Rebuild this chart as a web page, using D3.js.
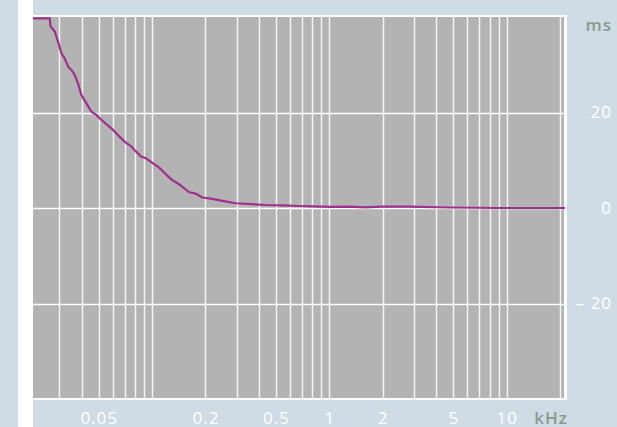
<!DOCTYPE html>
<html>
<head>
<meta charset="utf-8">
<script src="https://cdn.jsdelivr.net/npm/d3@7"></script>
<style>
  body { margin: 0; background: #cfdce5; }
  svg { display: block; }
</style>
</head>
<body>
<svg id="chart" width="617" height="427"></svg>
<script>
// frequency (kHz) and group delay (ms)
var freqs = [0.0213, 0.0265, 0.0267, 0.0283, 0.0295, 0.0308, 0.0322, 0.0336, 0.0351, 0.0366,
  0.0382, 0.0399, 0.0426, 0.0454, 0.0485, 0.0506, 0.0551, 0.0601, 0.0641, 0.0699,
  0.0762, 0.0813, 0.0867, 0.0925, 0.1008, 0.110, 0.120, 0.1305, 0.1455, 0.162,
  0.1767, 0.1924, 0.219, 0.249, 0.296, 0.352, 0.437, 0.542, 0.672, 0.798,
  1.034, 1.28, 1.59, 1.975, 2.79, 4.68, 8.94, 21.3];
var delays = [39.7, 39.7, 38.1, 36.9, 34.8, 32.4, 31.3, 29.6, 28.9, 27.9,
  26.1, 23.7, 21.9, 20.2, 19.5, 18.8, 17.6, 16.4, 15.3, 13.9,
  12.9, 11.8, 10.8, 10.4, 9.4, 8.4, 7.0, 5.8, 4.7, 3.3,
  3.0, 2.2, 1.9, 1.5, 1.0, 0.84, 0.63, 0.54, 0.42, 0.33,
  0.25, 0.27, 0.13, 0.27, 0.27, 0.1, 0, 0];

var gridFreqs = [0.03, 0.04, 0.05, 0.06, 0.07, 0.08, 0.09, 0.1, 0.2, 0.3, 0.4, 0.5, 0.6, 0.7, 0.8, 0.9,
  1, 2, 3, 4, 5, 6, 7, 8, 9, 10, 20];
var xTickValues = [0.05, 0.2, 0.5, 1, 2, 5, 10];
var xTickLabels = ["0.05", "0.2", "0.5", "1", "2", "5", "10"];
var yTickValues = [20, 0, -20];
var yTickLabels = ["20", "0", "\u2013 20"];

var svg = d3.select("#chart");
var plotLeft = 33, plotRight = 565, plotTop = 17, plotBottom = 399;

svg.append("rect").attr("width", 617).attr("height", 427).attr("fill", "#cfdce5");
// white strip on the left
svg.append("rect").attr("x", 18).attr("y", 0).attr("width", 15).attr("height", 427).attr("fill", "#ffffff");
// white frame round the plot
svg.append("rect").attr("x", plotLeft).attr("y", plotTop - 2)
  .attr("width", plotRight - plotLeft + 2).attr("height", plotBottom - plotTop + 3)
  .attr("fill", "#ffffff");
svg.append("rect").attr("x", plotLeft).attr("y", plotTop)
  .attr("width", plotRight - plotLeft - 1).attr("height", plotBottom - plotTop - 1)
  .attr("fill", "#b3b3b3");

var x = d3.scaleLog().domain([0.0213, 21.3]).range([plotLeft, plotRight]);
var y = d3.scaleLinear().domain([-40, 40]).range([plotBottom, plotTop]);

var g = svg.append("g");
g.selectAll("line.vgrid")
  .data(gridFreqs)
  .enter().append("line")
  .attr("class", "vgrid")
  .attr("x1", d => Math.round(x(d)) + 0.5).attr("x2", d => Math.round(x(d)) + 0.5)
  .attr("y1", plotTop).attr("y2", plotBottom - 1)
  .attr("stroke", "#f4f4f4").attr("stroke-width", 1.5);

g.selectAll("line.hgrid")
  .data(yTickValues)
  .enter().append("line")
  .attr("class", "hgrid")
  .attr("x1", plotLeft).attr("x2", plotRight - 1)
  .attr("y1", d => Math.round(y(d)) + 0.5).attr("y2", d => Math.round(y(d)) + 0.5)
  .attr("stroke", "#ffffff").attr("stroke-width", 1.5);

svg.append("clipPath").attr("id", "clip")
  .append("rect").attr("x", plotLeft).attr("y", plotTop)
  .attr("width", plotRight - plotLeft).attr("height", plotBottom - plotTop);

var line = d3.line()
  .x((d, i) => x(freqs[i]))
  .y(d => y(d));

svg.append("path")
  .datum(delays)
  .attr("clip-path", "url(#clip)")
  .attr("d", line)
  .attr("fill", "none")
  .attr("stroke", "#a0308e")
  .attr("stroke-width", 2.2)
  .attr("stroke-linejoin", "round");

// x labels
svg.append("g").selectAll("text")
  .data(xTickValues)
  .enter().append("text")
  .attr("x", d => x(d) + 0.5)
  .attr("y", 424)
  .attr("text-anchor", "middle")
  .attr("font-family", "Open Sans")
  .attr("font-size", 17)
  .attr("letter-spacing", 1)
  .attr("fill", "#ffffff")
  .text((d, i) => xTickLabels[i]);

svg.append("text")
  .attr("x", 568).attr("y", 424)
  .attr("text-anchor", "end")
  .attr("font-family", "Open Sans")
  .attr("font-weight", 600)
  .attr("font-size", 17)
  .attr("letter-spacing", 1)
  .attr("fill", "#8b9a8d")
  .text("kHz");

// y labels
svg.append("g").selectAll("text")
  .data(yTickValues)
  .enter().append("text")
  .attr("x", 612)
  .attr("y", d => y(d) + 5.5)
  .attr("text-anchor", "end")
  .attr("font-family", "Open Sans")
  .attr("font-size", 17)
  .attr("letter-spacing", 1)
  .attr("fill", "#ffffff")
  .text((d, i) => yTickLabels[i]);

svg.append("text")
  .attr("x", 612).attr("y", 31)
  .attr("text-anchor", "end")
  .attr("font-family", "Open Sans")
  .attr("font-weight", 600)
  .attr("font-size", 17)
  .attr("letter-spacing", 1)
  .attr("fill", "#8b9a8d")
  .text("ms");
</script>
</body>
</html>
